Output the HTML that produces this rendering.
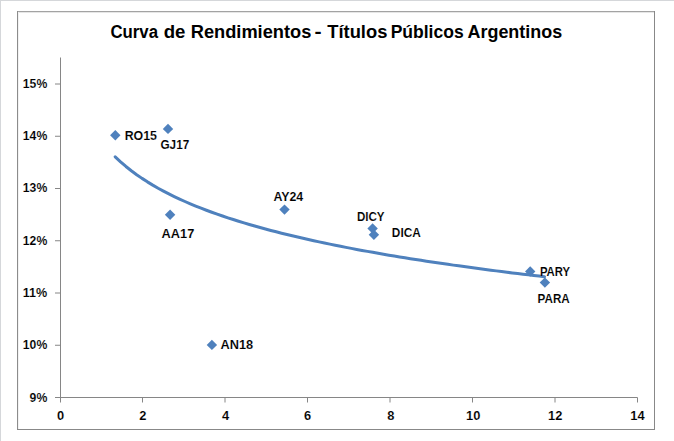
<!DOCTYPE html>
<html><head><meta charset="utf-8"><style>
html,body{margin:0;padding:0;background:#fff;width:674px;height:441px;overflow:hidden}
svg{display:block}
text{font-family:"Liberation Sans",sans-serif;font-weight:bold;fill:#000;stroke:#fff;stroke-width:0.12;paint-order:normal}
</style></head><body>
<svg width="674" height="441" viewBox="0 0 674 441">
<rect x="0" y="0" width="674" height="441" fill="#fff"/>
<rect x="0" y="0" width="674" height="1" fill="#d5d7da"/>
<rect x="0" y="0" width="1" height="441" fill="#d5d7da"/>
<rect x="18" y="12" width="636" height="1" fill="#e6e6e6"/>
<rect x="18" y="12" width="1" height="417" fill="#f2f2f2"/>
<rect x="17" y="11" width="638" height="1" fill="#a3a3a3"/>
<rect x="17" y="11" width="1" height="419" fill="#8c8c8c"/>
<rect x="654" y="11" width="1" height="419" fill="#888888"/>
<rect x="17" y="429" width="638" height="1" fill="#888888"/>
<g stroke="#868686" stroke-width="1" fill="none">
<path d="M60.5 57.5V397.5"/>
<path d="M55 397.5H637.5"/>
<path d="M55 397.50H60.5"/><path d="M55 345.25H60.5"/><path d="M55 293.00H60.5"/><path d="M55 240.75H60.5"/><path d="M55 188.50H60.5"/><path d="M55 136.25H60.5"/><path d="M55 84.00H60.5"/><path d="M60.50 397.5V402.5"/><path d="M142.50 397.5V402.5"/><path d="M225.00 397.5V402.5"/><path d="M307.50 397.5V402.5"/><path d="M390.00 397.5V402.5"/><path d="M472.50 397.5V402.5"/><path d="M555.00 397.5V402.5"/><path d="M637.50 397.5V402.5"/>
</g>
<g fill="#4f81bd">
<path d="M115.30 130.00L120.50 135.20L115.30 140.40L110.10 135.20Z"/>
<path d="M168.00 123.70L173.20 128.90L168.00 134.10L162.80 128.90Z"/>
<path d="M170.10 209.60L175.30 214.80L170.10 220.00L164.90 214.80Z"/>
<path d="M211.90 339.70L217.10 344.90L211.90 350.10L206.70 344.90Z"/>
<path d="M284.50 204.40L289.70 209.60L284.50 214.80L279.30 209.60Z"/>
<path d="M372.60 223.30L377.80 228.50L372.60 233.70L367.40 228.50Z"/>
<path d="M373.90 229.60L379.10 234.80L373.90 240.00L368.70 234.80Z"/>
<path d="M530.20 266.30L535.40 271.50L530.20 276.70L525.00 271.50Z"/>
<path d="M544.90 277.40L550.10 282.60L544.90 287.80L539.70 282.60Z"/>
</g>
<polyline points="115.20,156.84 120.57,161.86 125.93,166.47 131.30,170.73 136.66,174.69 142.03,178.38 147.40,181.85 152.76,185.11 158.13,188.20 163.50,191.12 168.86,193.90 174.23,196.55 179.60,199.08 184.96,201.50 190.33,203.82 195.69,206.04 201.06,208.18 206.43,210.25 211.79,212.23 217.16,214.16 222.53,216.01 227.89,217.81 233.26,219.55 238.62,221.24 243.99,222.88 249.36,224.47 254.72,226.02 260.09,227.53 265.45,229.00 270.82,230.43 276.19,231.82 281.55,233.18 286.92,234.51 292.29,235.81 297.65,237.08 303.02,238.32 308.38,239.53 313.75,240.72 319.12,241.88 324.48,243.02 329.85,244.14 335.22,245.23 340.58,246.31 345.95,247.36 351.31,248.40 356.68,249.41 362.05,250.41 367.41,251.39 372.78,252.35 378.15,253.30 383.51,254.23 388.88,255.15 394.25,256.05 399.61,256.93 404.98,257.81 410.34,258.67 415.71,259.51 421.08,260.35 426.44,261.17 431.81,261.98 437.18,262.78 442.54,263.56 447.91,264.34 453.27,265.11 458.64,265.86 464.01,266.61 469.37,267.34 474.74,268.07 480.11,268.78 485.47,269.49 490.84,270.19 496.20,270.88 501.57,271.56 506.94,272.24 512.30,272.90 517.67,273.56 523.03,274.21 528.40,274.85 533.77,275.49 539.13,276.11 544.50,276.74" fill="none" stroke="#4f81bd" stroke-width="3" stroke-linecap="round" stroke-linejoin="round"/>
<text transform="translate(110.45,37.90) scale(0.8881,1)" font-size="18.9" style="stroke-width:0">Curva</text>
<text transform="translate(163.71,37.90) scale(0.9855,1)" font-size="18.9" style="stroke-width:0">de</text>
<text transform="translate(190.76,37.90) scale(0.9652,1)" font-size="18.9" style="stroke-width:0">Rendimientos</text>
<text transform="translate(314.56,37.90) scale(1.1243,1)" font-size="18.9" style="stroke-width:0">-</text>
<text transform="translate(327.24,37.90) scale(0.9710,1)" font-size="18.9" style="stroke-width:0">Títulos</text>
<text transform="translate(390.65,37.90) scale(0.9268,1)" font-size="18.9" style="stroke-width:0">Públicos</text>
<text transform="translate(467.49,37.90) scale(0.9501,1)" font-size="18.9" style="stroke-width:0">Argentinos</text>
<text transform="translate(29.62,401.90) scale(0.9497,1)" font-size="12.9">9%</text>
<text transform="translate(22.84,348.88) scale(0.9458,1)" font-size="12.9">10%</text>
<text transform="translate(22.81,297.11) scale(0.9753,1)" font-size="12.9">11%</text>
<text transform="translate(22.84,245.09) scale(0.9458,1)" font-size="12.9">12%</text>
<text transform="translate(22.84,192.07) scale(0.9458,1)" font-size="12.9">13%</text>
<text transform="translate(22.84,140.05) scale(0.9458,1)" font-size="12.9">14%</text>
<text transform="translate(22.84,88.03) scale(0.9458,1)" font-size="12.9">15%</text>
<text transform="translate(56.88,420.00) scale(1.0000,1)" font-size="12.9">0</text>
<text transform="translate(139.16,420.00) scale(1.0000,1)" font-size="12.9">2</text>
<text transform="translate(221.90,420.00) scale(1.0000,1)" font-size="12.9">4</text>
<text transform="translate(304.10,420.00) scale(1.0000,1)" font-size="12.9">6</text>
<text transform="translate(387.22,420.00) scale(1.0000,1)" font-size="12.9">8</text>
<text transform="translate(466.08,420.00) scale(1.0000,1)" font-size="12.9">10</text>
<text transform="translate(548.11,420.00) scale(1.0000,1)" font-size="12.9">12</text>
<text transform="translate(630.25,420.00) scale(1.0000,1)" font-size="12.9">14</text>
<text transform="translate(124.63,140.05) scale(0.9617,1)" font-size="12.9">RO15</text>
<text transform="translate(160.49,148.90) scale(0.9102,1)" font-size="12.9">GJ17</text>
<text transform="translate(161.60,237.95) scale(0.9924,1)" font-size="12.9">AA17</text>
<text transform="translate(220.40,348.90) scale(0.9924,1)" font-size="12.9">AN18</text>
<text transform="translate(273.41,200.95) scale(0.9597,1)" font-size="12.9">AY24</text>
<text transform="translate(356.89,221.00) scale(0.8986,1)" font-size="12.9">DICY</text>
<text transform="translate(391.87,237.05) scale(0.9180,1)" font-size="12.9">DICA</text>
<text transform="translate(539.91,276.00) scale(0.8792,1)" font-size="12.9">PARY</text>
<text transform="translate(537.57,303.05) scale(0.9060,1)" font-size="12.9">PARA</text>
</svg>
</body></html>
